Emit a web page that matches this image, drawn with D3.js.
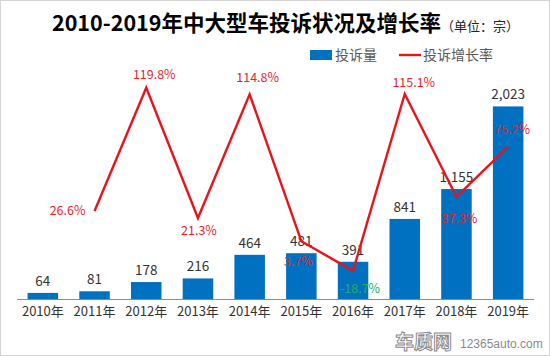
<!DOCTYPE html>
<html><head><meta charset="utf-8">
<script src="https://cdn.jsdelivr.net/npm/d3@7"></script>
<style>
html,body{margin:0;padding:0;background:#fff;}
svg{display:block;font-family:"Noto Sans CJK SC","Microsoft YaHei",sans-serif;}
</style></head>
<body><svg id="c" width="550" height="356"></svg>
<script>
const years = ["2010年","2011年","2012年","2013年","2014年","2015年","2016年","2017年","2018年","2019年"];
const complaints = [64,81,178,216,464,481,391,841,1155,2023];
const growth = [null,26.6,119.8,21.3,114.8,3.7,-18.7,115.1,37.3,75.2];
const countLabels = ["64","81","178","216","464","481","391","841","1,155","2,023"];
const growthLabels = ["","26.6%","119.8%","21.3%","114.8%","3.7%","-18.7%","115.1%","37.3%","75.2%"];
// label placement relative to point
const labelPlace = [null,[-27,0],[8,-13],[1,13],[8,-17],[-3,20],[7,18],[9,-11],[3,22],[4,-17]];

const svg = d3.select("#c");
svg.append("rect").attr("x",0.5).attr("y",0.5).attr("width",549).attr("height",355)
  .attr("fill","#fff").attr("stroke","#d4d4d4");

const plotTop = 61, plotBottom = 299, plotLeft = 17, plotRight = 534;
const x = d3.scaleBand().domain(years).range([plotLeft,plotRight]).paddingInner(0.41).paddingOuter(0.205);
const y = d3.scaleLinear().domain([0,2500]).range([plotBottom,plotTop]);
const y2 = d3.scaleLinear().domain([-40,140]).range([plotBottom,plotTop]);

// bars
svg.append("g").selectAll("rect").data(complaints).join("rect")
  .attr("x",(d,i)=>x(years[i])).attr("width",x.bandwidth())
  .attr("y",d=>y(d)).attr("height",d=>plotBottom-y(d)).attr("fill","#0070C0");

// x axis
const xa = svg.append("g").attr("transform",`translate(0,${plotBottom})`)
  .call(d3.axisBottom(x).tickSize(0).tickPadding(8));
xa.select(".domain").attr("stroke","#8c8c8c").attr("stroke-width",1).attr("d",`M${plotLeft},0.5H${plotRight}`);
xa.selectAll("text").attr("font-size",13).attr("fill","#333").attr("font-family","Noto Sans CJK SC");

// bar labels
svg.append("g").selectAll("text").data(complaints).join("text")
  .attr("x",(d,i)=>x(years[i])+x.bandwidth()/2).attr("y",d=>y(d)-7)
  .attr("text-anchor","middle").attr("font-size",13.5).attr("fill","#333")
  .text((d,i)=>countLabels[i]);

// line
const pts = growth.map((g,i)=>({g,i})).filter(p=>p.g!==null);
const line = d3.line().x(p=>x(years[p.i])+x.bandwidth()/2).y(p=>y2(p.g));
svg.append("path").datum(pts).attr("d",line).attr("fill","none")
  .attr("stroke","#E8141C").attr("stroke-width",2.4).attr("stroke-linejoin","miter");

// growth labels
svg.append("g").selectAll("text").data(pts).join("text")
  .attr("x",p=>x(years[p.i])+x.bandwidth()/2+labelPlace[p.i][0])
  .attr("y",p=>y2(p.g)+labelPlace[p.i][1])
  .attr("dy","0.35em").attr("text-anchor","middle").attr("font-size",12.5)
  .attr("fill",p=>p.g<0?"#21B05A":"#E3262F")
  .text(p=>growthLabels[p.i]);

// title
const t = svg.append("text").attr("x",52).attr("y",31).attr("font-size",21.5).attr("font-weight","bold").attr("fill","#000");
t.append("tspan").text("2010-2019年中大型车投诉状况及增长率");
t.append("tspan").attr("font-size",13).attr("font-weight","normal").attr("fill","#222").attr("dx",0).text("（单位：宗）");

// legend
svg.append("rect").attr("x",310).attr("y",50).attr("width",22).attr("height",10).attr("fill","#0070C0");
svg.append("text").attr("x",335).attr("y",60).attr("font-size",14).attr("fill","#595959").text("投诉量");
svg.append("line").attr("x1",399).attr("x2",421).attr("y1",55).attr("y2",55).attr("stroke","#E8141C").attr("stroke-width",2.4);
svg.append("text").attr("x",423).attr("y",60).attr("font-size",14).attr("fill","#595959").text("投诉增长率");

// watermark
svg.append("text").attr("x",395).attr("y",349).attr("font-size",19).attr("font-weight","bold")
  .attr("fill","#fff").attr("stroke","#8a8a8a").attr("stroke-width",1).text("车质网");
svg.append("text").attr("x",460).attr("y",348).attr("font-size",12).attr("fill","#8a8a8a")
  .attr("font-family","Arial, Liberation Sans").text("12365auto.com");
</script></body></html>
